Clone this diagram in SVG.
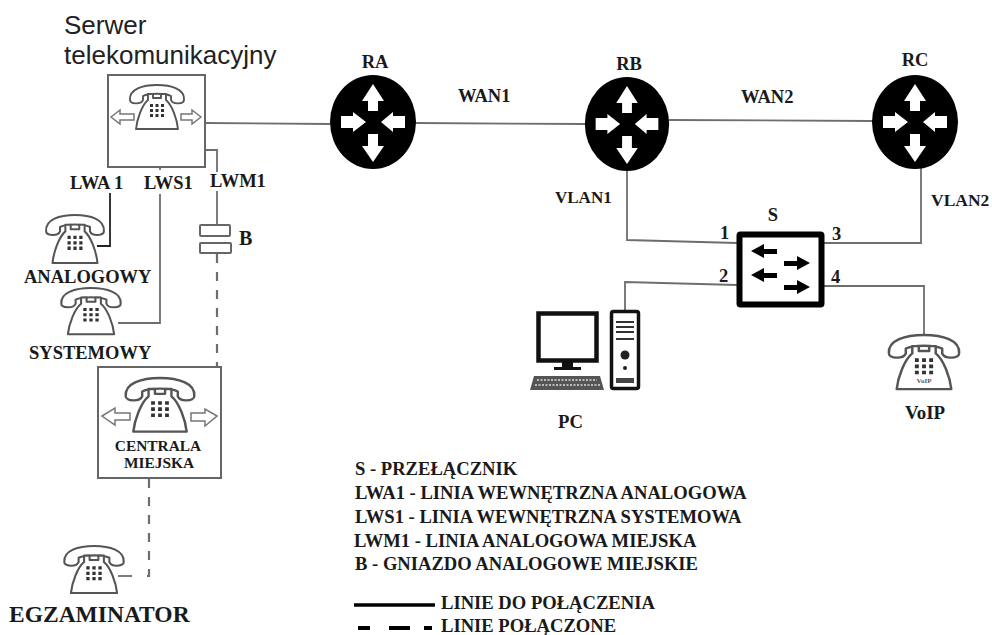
<svg xmlns="http://www.w3.org/2000/svg" xmlns:xlink="http://www.w3.org/1999/xlink" width="992" height="635" viewBox="0 0 992 635">
<style>
text{font-family:"Liberation Serif","Times New Roman",serif;font-weight:bold;fill:#1a1a1a}
.s{font-size:18.500px}
.l{font-size:18.600px}
.t{font-family:"Liberation Sans",Arial,sans-serif;font-weight:normal;font-size:26px;fill:#222}
.c{fill:none;stroke:#6e6e6e;stroke-width:1.8}
.d{fill:none;stroke:#6e6e6e;stroke-width:2.200;stroke-dasharray:9 9}
.box{fill:#fff;stroke:#666;stroke-width:2}
.ph{fill:#fff;stroke:#555;stroke-width:1.9;stroke-linejoin:round}
.ar{fill:#fff;stroke:#777;stroke-width:1.500}
.r{fill:#000}
.wa{fill:#fff}
.ba{fill:#000}
</style>
<defs>
<g id="phone">
<path class="ph" d="M-27 15C-28 4-14 0 0 0C14 0 28 4 27 15C27 19 16 20 14 15L14 11C8 8-8 8-14 11L-14 15C-16 20-27 19-27 15Z"/>
<path class="ph" d="M-9 9L-9 15C-15 20-20 34-21 44L21 44C20 34 15 20 9 15L9 9L4 9L4 13L-4 13L-4 9Z"/>
<path fill="#333" d="M-7 19h3v3h-3zM-1.500 19h3v3h-3zM4 19h3v3h-3zM-7 24h3v3h-3zM-1.500 24h3v3h-3zM4 24h3v3h-3zM-7 29h3v3h-3zM-1.500 29h3v3h-3zM4 29h3v3h-3z"/>
</g>
<g id="router">
<ellipse class="r" cx="0" cy="0" rx="43" ry="47"/>
<path class="wa" d="M0-38L11-21L5-21L5-11L-5-11L-5-21L-11-21Z"/>
<path class="wa" d="M0 40L11 24L5 24L5 12L-5 12L-5 24L-11 24Z"/>
<path class="wa" d="M-7 0L-20-10L-20-6L-32-6L-32 6L-20 6L-20 10Z"/>
<path class="wa" d="M8 0L20-10L20-6L32-6L32 6L20 6L20 10Z"/>
</g>
</defs>
<rect width="992" height="635" fill="#fff"/>
<g id="connectors">
<path class="c" d="M205 123L330 124"/>
<path class="c" d="M416 123L585 124"/>
<path class="c" d="M669 120L873 121"/>
<path class="c" d="M627 170L627 240L737 243"/>
<path class="c" d="M921 164L921 243L824 243"/>
<path class="c" d="M625 310L625 282L737 285"/>
<path class="c" d="M824 286L924 286L924 335"/>
<path class="c" d="M205 150L217 150L217 172"/>
<path class="c" d="M217 191L217 225"/>
<path d="M110 193L110 246L97 246" fill="none" stroke="#222" stroke-width="1.800"/>
<path class="c" d="M160 194L160 323L118 323"/>
<path class="c" d="M160 167L160 170"/>
<path class="d" d="M217 254L217 367"/>
<path class="d" d="M149 479L149 576L145 576"/>
<path class="c" d="M118 576L132 576"/>
</g>
<g id="server">
<rect class="box" x="108" y="75" width="97" height="92"/>
<use xlink:href="#phone" href="#phone" transform="translate(157 85)"/>
<path class="ar" d="M111 117L120 110L120 114L134 114L134 120L120 120L120 124Z"/>
<path class="ar" d="M201 117L192 110L192 114L181 114L181 120L192 120L192 124Z"/>
<text class="t" x="64" y="34">Serwer</text>
<text class="t" x="64" y="64">telekomunikacyjny</text>
</g>
<g id="phone-analog">
<use xlink:href="#phone" href="#phone" transform="translate(75 215) scale(1.07 1.09)"/>
<text class="s" x="70" y="189">LWA 1</text>
<text class="s" x="24" y="283">ANALOGOWY</text>
</g>
<g id="phone-system">
<use xlink:href="#phone" href="#phone" transform="translate(91 288) scale(1.100 1.050)"/>
<text class="s" x="144" y="189">LWS1</text>
<text class="s" x="29" y="359">SYSTEMOWY</text>
</g>
<g id="socket">
<rect class="box" x="200" y="225" width="30" height="11" rx="1"/>
<rect class="box" x="200" y="243" width="31" height="10" rx="1"/>
<text class="s" x="210" y="187">LWM1</text>
<text x="239" y="245" style="font-size:20px">B</text>
</g>
<g id="central">
<rect class="box" x="98" y="367" width="123" height="111"/>
<use xlink:href="#phone" href="#phone" transform="translate(160 378) scale(1.270 1.220)"/>
<path class="ar" d="M102 416L115 408L115 413L130 413L130 420L115 420L115 425Z"/>
<path class="ar" d="M217 416L205 409L205 413L191 413L191 421L205 421L205 426Z"/>
<text x="158" y="451" text-anchor="middle" style="font-size:15.400px">CENTRALA</text>
<text x="159" y="468" text-anchor="middle" style="font-size:15.400px">MIEJSKA</text>
</g>
<g id="examiner">
<use xlink:href="#phone" href="#phone" transform="translate(94 546) scale(1.100 1.070)"/>
<text x="9" y="622" style="font-size:23.500px">EGZAMINATOR</text>
</g>
<g id="ra">
<use xlink:href="#router" href="#router" transform="translate(373 122)"/>
<text class="s" x="375" y="68" text-anchor="middle">RA</text>
</g>
<g id="rb">
<use xlink:href="#router" href="#router" transform="translate(627 124) scale(.98 1)"/>
<text class="s" x="629" y="70" text-anchor="middle">RB</text>
</g>
<g id="rc">
<use xlink:href="#router" href="#router" transform="translate(915 122)"/>
<text class="s" x="915" y="66" text-anchor="middle">RC</text>
</g>
<g id="link-labels">
<text class="s" x="458" y="102">WAN1</text>
<text class="s" x="741" y="103">WAN2</text>
<text x="555" y="203" style="font-size:17px">VLAN1</text>
<text x="931" y="206" style="font-size:17.500px">VLAN2</text>
</g>
<g id="switch">
<rect x="739.500" y="234.500" width="82" height="70" fill="#fff" stroke="#000" stroke-width="6" rx="1"/>
<path class="ba" d="M751 251L764 244L764 249L777 249L777 254L764 254L764 258Z"/>
<path class="ba" d="M810 263L797 256L797 261L784 261L784 266L797 266L797 270Z"/>
<path class="ba" d="M751 275L764 268L764 273L777 273L777 278L764 278L764 282Z"/>
<path class="ba" d="M810 287L797 280L797 285L784 285L784 290L797 290L797 294Z"/>
<text class="s" x="773" y="221" text-anchor="middle">S</text>
<text class="s" x="720" y="239">1</text>
<text class="s" x="719" y="282">2</text>
<text class="s" x="832" y="240">3</text>
<text class="s" x="831" y="283">4</text>
</g>
<g id="pc">
<rect x="538.500" y="313.500" width="58" height="47" fill="#fff" stroke="#111" stroke-width="4.500"/>
<path fill="#111" d="M562 362H573V367H581V370H554V367H562Z"/>
<path fill="#555" d="M534 376H600L604 390H530Z"/>
<path d="M537 380H597M535 385H600" stroke="#ddd" stroke-width="1.500" stroke-dasharray="2 1.500"/>
<rect x="611.500" y="311.500" width="27" height="77" rx="2" fill="#fff" stroke="#111" stroke-width="3.500"/>
<path d="M616 322H634M616 327H634M616 332H634M616 339H634" stroke="#333" stroke-width="2.200"/>
<circle cx="625" cy="355" r="4.500" fill="#222"/>
<circle cx="625" cy="368" r="2" fill="#222"/>
<rect x="616" y="378" width="18" height="5" fill="#444"/>
<text x="558" y="428" style="font-size:18.700px">PC</text>
</g>
<g id="voip">
<use xlink:href="#phone" href="#phone" transform="translate(924 335) scale(1.300 1.230)"/>
<text x="924" y="383" text-anchor="middle" style="font-size:7px;fill:#555">VoIP</text>
<text x="925" y="419" text-anchor="middle" style="font-size:18.900px">VoIP</text>
</g>
<g id="legend">
<text class="l" x="355" y="475">S - PRZEŁĄCZNIK</text>
<text class="l" x="355" y="499">LWA1 - LINIA WEWNĘTRZNA ANALOGOWA</text>
<text class="l" x="355" y="523">LWS1 - LINIA WEWNĘTRZNA SYSTEMOWA</text>
<text class="l" x="354" y="547">LWM1 - LINIA ANALOGOWA MIEJSKA</text>
<text class="l" x="355" y="570">B - GNIAZDO ANALOGOWE MIEJSKIE</text>
<path d="M354 605H435" stroke="#000" stroke-width="3.500"/>
<text class="l" x="441" y="609">LINIE DO POŁĄCZENIA</text>
<path d="M358 628H370M389 628H410M424 628H432" stroke="#000" stroke-width="4"/>
<text class="l" x="441" y="632">LINIE POŁĄCZONE</text>
</g>
</svg>
